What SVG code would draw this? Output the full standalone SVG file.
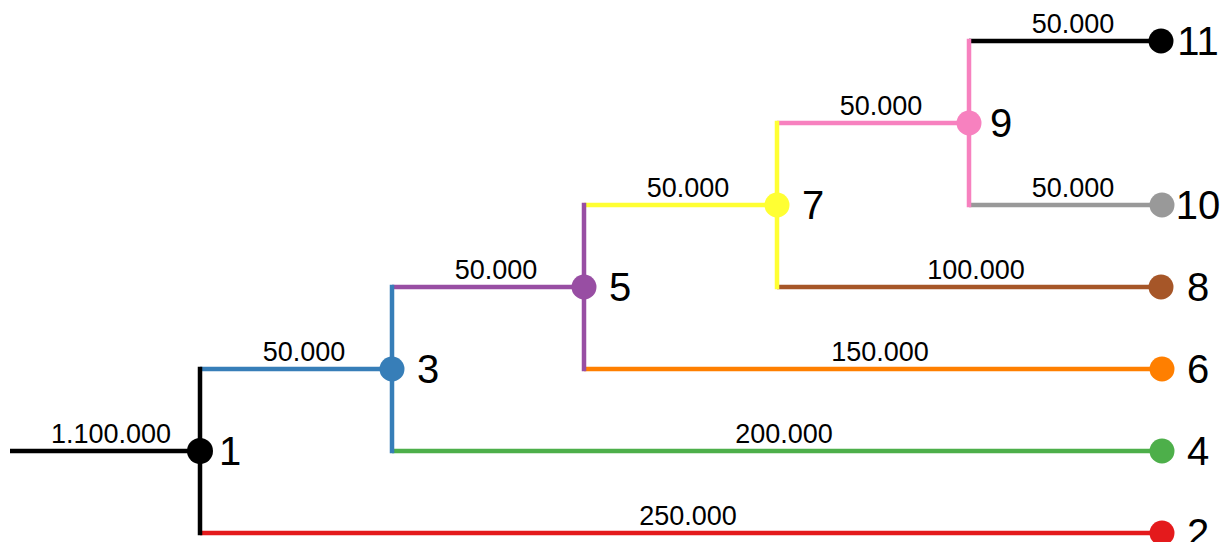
<svg xmlns="http://www.w3.org/2000/svg" width="1221" height="542" viewBox="0 0 1221 542">
<style>
.e{fill:none;stroke-width:4.5}
.v{fill:none;stroke-width:4.5;stroke-linecap:square}
.el{font-family:"Liberation Sans",Arial,sans-serif;font-size:27px;text-anchor:middle;fill:#000}
.nl{font-family:"Liberation Sans",Arial,sans-serif;font-size:40px;text-anchor:middle;fill:#000}
</style>
<rect width="1221" height="542" fill="#fff"/>
<g id="connectors">
<line class="e" x1="10" y1="451" x2="200" y2="451" stroke="#000"/>
<line class="e" x1="200" y1="533" x2="1161" y2="533" stroke="#E41A1C"/>
<line class="e" x1="200" y1="369" x2="392" y2="369" stroke="#377EB8"/>
<line class="e" x1="392" y1="451" x2="1161" y2="451" stroke="#4DAF4A"/>
<line class="e" x1="392" y1="287" x2="584" y2="287" stroke="#984EA3"/>
<line class="e" x1="584" y1="369" x2="1161" y2="369" stroke="#FF7F00"/>
<line class="e" x1="584" y1="205" x2="777" y2="205" stroke="#FFFF33"/>
<line class="e" x1="777" y1="287" x2="1161" y2="287" stroke="#A65628"/>
<line class="e" x1="777" y1="123" x2="969" y2="123" stroke="#F781BF"/>
<line class="e" x1="969" y1="205" x2="1161" y2="205" stroke="#999999"/>
<line class="e" x1="969" y1="41" x2="1161" y2="41" stroke="#000"/>
<line class="v" x1="200" y1="369" x2="200" y2="533" stroke="#000"/>
<line class="v" x1="392" y1="287" x2="392" y2="451" stroke="#377EB8"/>
<line class="v" x1="584" y1="205" x2="584" y2="369" stroke="#984EA3"/>
<line class="v" x1="777" y1="123" x2="777" y2="287" stroke="#FFFF33"/>
<line class="v" x1="969" y1="41" x2="969" y2="205" stroke="#F781BF"/>
<text class="el" x="111" y="443">1.100.000</text>
<text class="el" x="688" y="525">250.000</text>
<text class="el" x="304" y="361">50.000</text>
<text class="el" x="784" y="443">200.000</text>
<text class="el" x="496" y="279">50.000</text>
<text class="el" x="880" y="361">150.000</text>
<text class="el" x="688" y="197">50.000</text>
<text class="el" x="976" y="279">100.000</text>
<text class="el" x="881" y="115">50.000</text>
<text class="el" x="1073" y="197">50.000</text>
<text class="el" x="1073" y="33">50.000</text>
</g>
<g id="n1"><circle cx="200" cy="451" r="13" fill="#000"/><text class="nl" x="230" y="465">1</text></g>
<g id="n2"><circle cx="1162" cy="533" r="12.5" fill="#E41A1C"/><text class="nl" x="1198" y="547">2</text></g>
<g id="n3"><circle cx="392" cy="369" r="12.5" fill="#377EB8"/><text class="nl" x="428" y="383">3</text></g>
<g id="n4"><circle cx="1162" cy="451" r="12.5" fill="#4DAF4A"/><text class="nl" x="1198" y="465">4</text></g>
<g id="n5"><circle cx="584" cy="287" r="12.5" fill="#984EA3"/><text class="nl" x="620" y="301">5</text></g>
<g id="n6"><circle cx="1162" cy="369" r="12.5" fill="#FF7F00"/><text class="nl" x="1198" y="383">6</text></g>
<g id="n7"><circle cx="777" cy="205" r="12.5" fill="#FFFF33"/><text class="nl" x="813" y="219">7</text></g>
<g id="n8"><circle cx="1161" cy="287" r="12.5" fill="#A65628"/><text class="nl" x="1198" y="301">8</text></g>
<g id="n9"><circle cx="969" cy="123" r="12.5" fill="#F781BF"/><text class="nl" x="1001" y="137">9</text></g>
<g id="n10"><circle cx="1162" cy="205" r="12.5" fill="#999999"/><text class="nl" x="1198" y="219">10</text></g>
<g id="n11"><circle cx="1161" cy="41" r="12.5" fill="#000"/><text class="nl" x="1198" y="55">11</text></g>
</svg>
